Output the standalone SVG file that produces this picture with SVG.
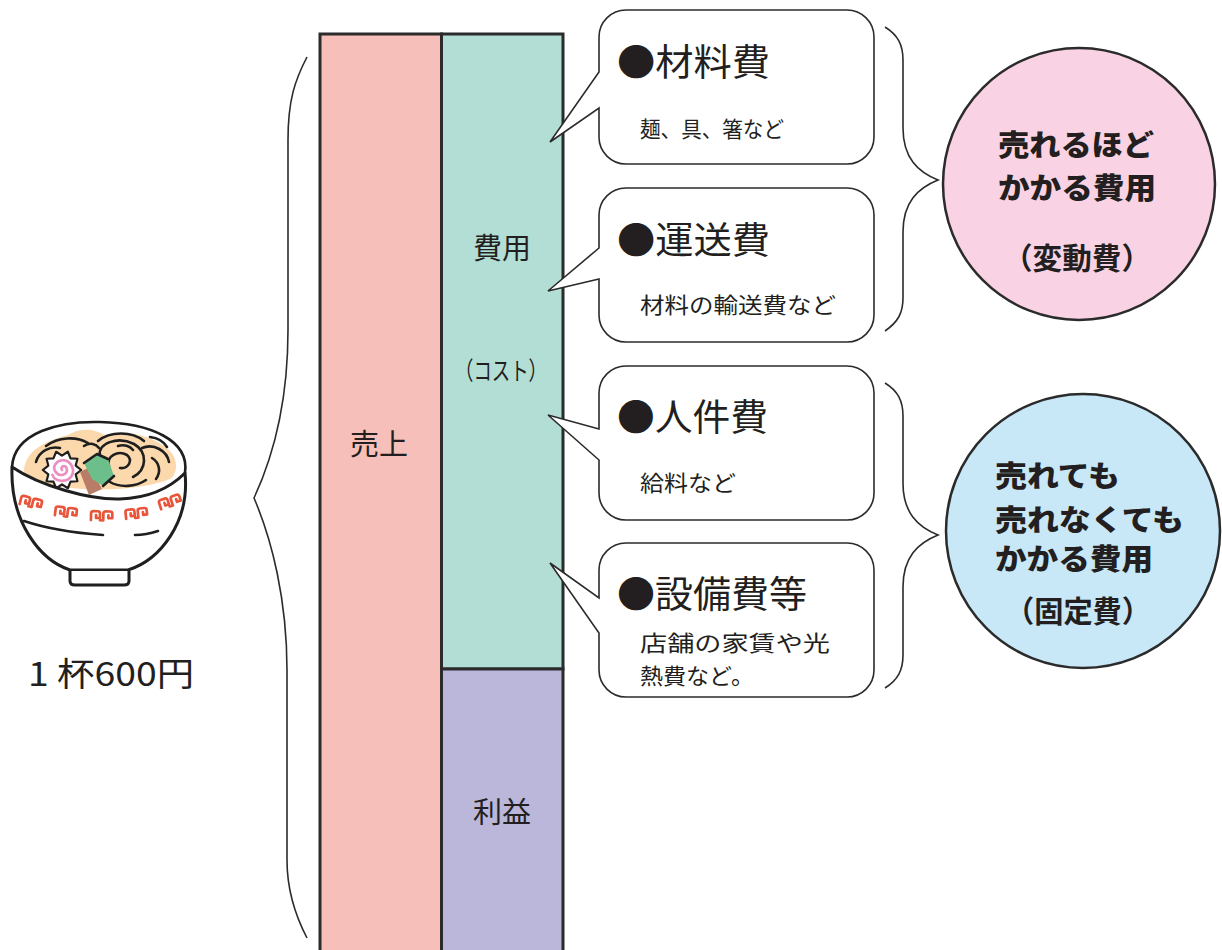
<svg xmlns="http://www.w3.org/2000/svg" width="1222" height="950" viewBox="0 0 1222 950">
  <style>
    .jp { font-family: "Noto Sans CJK JP", "Noto Sans", sans-serif; fill: #231f20; }
    .bar { stroke: #2b2b2b; stroke-width: 3; }
    .bubble { fill: #ffffff; stroke: #2b2b2b; stroke-width: 1.6; stroke-linejoin: miter; }
    .brace { fill: none; stroke: #2b2b2b; stroke-width: 1.6; }
    .title { font-size: 37px; }
    .note { font-size: 22px; }
    .label { font-size: 29px; }
    .circ { font-size: 29px; font-weight: 900; }
    .ink { fill: none; stroke: #1f1f1f; stroke-width: 2.6; stroke-linecap: round; stroke-linejoin: round; }
    .meander { fill: none; stroke: #e8553a; stroke-width: 2.4; stroke-linejoin: round; stroke-linecap: round; }
  </style>
  <defs>
    <!-- one unit of the red key-fret band on the bowl -->
    <path id="fret" d="M1,9 V3 Q1,1 3,1 H7 Q9,1 9,3 V7 H5.5 V4.5 M9,9 H12 V3 Q12,1 14,1 H18 Q20,1 20,3 V7 H16.5 V4.5"/>
  </defs>

  <rect width="1222" height="950" fill="#ffffff"/>

  <!-- ramen bowl illustration -->
  <g id="bowl">
    <!-- noodle soup inside the opening -->
    <path d="M24,472 C24,452 44,441 68,435 C80,427 96,429 104,435 C124,429 152,435 168,449 C178,458 178,470 172,478 C140,492 80,494 24,480 Z" fill="#fbd9ad"/>
    <g class="ink" stroke-width="2.2">
      <path d="M36,462 C39,451 50,446 60,448"/>
      <path d="M46,446 C58,437 76,436 88,443"/>
      <path d="M98,441 C110,431 132,431 144,441"/>
      <path d="M100,456 C97,443 118,436 134,444 C148,452 147,470 133,477"/>
      <path d="M109,466 C106,456 118,450 127,455 C133,460 129,469 120,468"/>
      <path d="M142,448 C154,443 167,451 169,462"/>
      <path d="M152,458 C160,463 161,472 156,479"/>
      <path d="M110,482 C120,488 136,487 146,480"/>
      <path d="M118,446 C124,444 130,446 133,450"/>
      <path d="M84,446 C90,442 96,444 99,448"/>
      <path d="M150,437 C158,438 164,442 167,447"/>
    </g>
    <!-- naruto slice -->
    <g transform="translate(62,470) scale(1.2) translate(-62,-470)">
      <polygon points="78,470 73.4,473.7 74.9,479.4 69.1,479.7 66.9,485.2 62,482 57.1,485.2 54.9,479.7 49.1,479.4 50.6,473.7 46,470 50.6,466.3 49.1,460.6 54.9,460.3 57.1,454.8 62,458 66.9,454.8 69.1,460.3 74.9,460.6 73.4,466.3" fill="#ffffff" stroke="#1f1f1f" stroke-width="1.8" stroke-linejoin="round"/>
      <path d="M62,470 C60,467 65,465 66,469 C67,474 60,476 57,472 C53,467 58,461 64,462 C70,463 73,470 70,475 C66,481 56,480 54,474" fill="none" stroke="#ec8fc0" stroke-width="2.2" stroke-linecap="round"/>
    </g>
    <!-- chashu and greens -->
    <path d="M80,472 L90,467 L102,489 L89,495 Z" fill="#b97c66"/>
    <path d="M84,463 L97,454 L108,459 L114,476 L103,486 L92,479 Z" fill="#6cbf8a"/>
    <path d="M84,463 L97,454 L108,459 M114,476 L103,486" class="ink" stroke-width="2"/>
    <!-- bowl body -->
    <path d="M12,467 C40,486 90,500 120,499 C150,498 170,488 185,473 C190,522 160,560 128,570 L70,570 C40,560 10,522 12,467 Z" fill="#ffffff" stroke="#1f1f1f" stroke-width="3" stroke-linejoin="round"/>
    <!-- rim back edge -->
    <path d="M12,467 C14,432 60,421 100,422 C150,423 190,440 185,473" class="ink" stroke-width="3"/>
    <!-- foot -->
    <path d="M70,571 L70,581 Q70,585 75,585 L124,585 Q129,585 129,581 L129,571" fill="#ffffff" stroke="#1f1f1f" stroke-width="3" stroke-linejoin="round"/>
    <!-- red fret band -->
    <g class="meander">
      <use href="#fret" transform="translate(21,494) rotate(14) scale(1.12)"/>
      <use href="#fret" transform="translate(55,505) rotate(7) scale(1.12)"/>
      <use href="#fret" transform="translate(90,510) rotate(1) scale(1.12)"/>
      <use href="#fret" transform="translate(124,509) rotate(-6) scale(1.12)"/>
      <use href="#fret" transform="translate(157,500) rotate(-18) scale(1.12)"/>
    </g>
    <!-- band underline -->
    <path d="M24,521 C45,528 75,533 103,535" class="ink" stroke-width="2.2"/>
    <path d="M135,535 C145,535 152,533 158,531" class="ink" stroke-width="2.2"/>
  </g>

  <!-- price per bowl -->
  <g id="price">
    <text class="jp" x="28" y="686" font-size="33" textLength="166" lengthAdjust="spacingAndGlyphs">1 杯600円</text>
  </g>

  <!-- stacked bars: sales vs. cost and profit -->
  <g id="sales">
    <rect class="bar" x="320" y="34" width="121.5" height="930" fill="#f7bfb9"/>
    <text class="jp label" x="379" y="455" text-anchor="middle">売上</text>
  </g>
  <g id="cost">
    <rect class="bar" x="441.5" y="34" width="121.5" height="635" fill="#b3ded5"/>
    <text class="jp label" x="502" y="259" text-anchor="middle">費用</text>
    <text class="jp" x="501" y="380" font-size="25" text-anchor="middle" textLength="92" lengthAdjust="spacingAndGlyphs">（コスト）</text>
  </g>
  <g id="profit">
    <rect class="bar" x="441.5" y="669" width="121.5" height="295" fill="#bab7da"/>
    <text class="jp label" x="502" y="823" text-anchor="middle">利益</text>
  </g>

  <!-- connectors: braces -->
  <g id="connectors">
    <path class="brace" d="M307,57 C295,80 288,100 288,140 V330 C288,400 274,455 254,498 C272,540 287,600 287,670 V860 C287,890 295,915 307,938"/>
    <path class="brace" d="M885,27 C898,35 903,45 903,60 V128 C903,158 918,172 938,180 C918,188 903,202 903,232 V298 C903,313 898,322 885,331"/>
    <path class="brace" d="M885,383 C898,391 903,401 903,416 V483 C903,513 918,527 938,535 C918,543 903,557 903,587 V655 C903,670 898,680 885,688"/>
  </g>

  <!-- callout: materials -->
  <g id="materials">
    <path class="bubble" d="M626,10 H847 A27,27 0 0 1 874,37 V137 A27,27 0 0 1 847,164 H626 A27,27 0 0 1 599,137 V108 L550,142 L599,72 V37 A27,27 0 0 1 626,10 Z"/>
    <text class="jp title" x="617" y="76" textLength="153" lengthAdjust="spacingAndGlyphs">●材料費</text>
    <text class="jp note" x="640" y="137" textLength="144" lengthAdjust="spacingAndGlyphs">麺、具、箸など</text>
  </g>

  <!-- callout: shipping -->
  <g id="shipping">
    <path class="bubble" d="M626,188 H847 A27,27 0 0 1 874,215 V315 A27,27 0 0 1 847,342 H626 A27,27 0 0 1 599,315 V279 L548,291 L599,248 V215 A27,27 0 0 1 626,188 Z"/>
    <text class="jp title" x="617" y="254" textLength="153" lengthAdjust="spacingAndGlyphs">●運送費</text>
    <text class="jp note" x="640" y="313" textLength="196" lengthAdjust="spacingAndGlyphs">材料の輸送費など</text>
  </g>

  <!-- callout: labour -->
  <g id="labour">
    <path class="bubble" d="M626,366 H847 A27,27 0 0 1 874,393 V493 A27,27 0 0 1 847,520 H626 A27,27 0 0 1 599,493 V460 L548,415 L599,429 V393 A27,27 0 0 1 626,366 Z"/>
    <text class="jp title" x="617" y="431" textLength="151" lengthAdjust="spacingAndGlyphs">●人件費</text>
    <text class="jp note" x="640" y="491" textLength="96" lengthAdjust="spacingAndGlyphs">給料など</text>
  </g>

  <!-- callout: facilities -->
  <g id="facilities">
    <path class="bubble" d="M626,543 H847 A27,27 0 0 1 874,570 V670 A27,27 0 0 1 847,697 H626 A27,27 0 0 1 599,670 V633 L550,563 L599,598 V570 A27,27 0 0 1 626,543 Z"/>
    <text class="jp title" x="617" y="608" textLength="190" lengthAdjust="spacingAndGlyphs">●設備費等</text>
    <text class="jp note" x="640" y="651" textLength="190" lengthAdjust="spacingAndGlyphs">店舗の家賃や光</text>
    <text class="jp note" x="640" y="684" textLength="114" lengthAdjust="spacingAndGlyphs">熱費など。</text>
  </g>

  <!-- variable cost -->
  <g id="variable-cost">
    <circle cx="1079" cy="184" r="136" fill="#f9d3e4" stroke="#2b2b2b" stroke-width="2.5"/>
    <text class="jp circ" x="998" y="156" textLength="156" lengthAdjust="spacingAndGlyphs">売れるほど</text>
    <text class="jp circ" x="998" y="199" textLength="158" lengthAdjust="spacingAndGlyphs">かかる費用</text>
    <text class="jp" x="1077" y="269" font-size="30" font-weight="700" text-anchor="middle" textLength="148" lengthAdjust="spacingAndGlyphs">（変動費）</text>
  </g>

  <!-- fixed cost -->
  <g id="fixed-cost">
    <circle cx="1083" cy="531" r="137" fill="#c8e8f8" stroke="#2b2b2b" stroke-width="2.5"/>
    <text class="jp circ" x="995" y="487" textLength="125" lengthAdjust="spacingAndGlyphs">売れても</text>
    <text class="jp circ" x="995" y="531" textLength="189" lengthAdjust="spacingAndGlyphs">売れなくても</text>
    <text class="jp circ" x="995" y="570" textLength="158" lengthAdjust="spacingAndGlyphs">かかる費用</text>
    <text class="jp" x="1078" y="622" font-size="30" font-weight="700" text-anchor="middle" textLength="146" lengthAdjust="spacingAndGlyphs">（固定費）</text>
  </g>
</svg>
